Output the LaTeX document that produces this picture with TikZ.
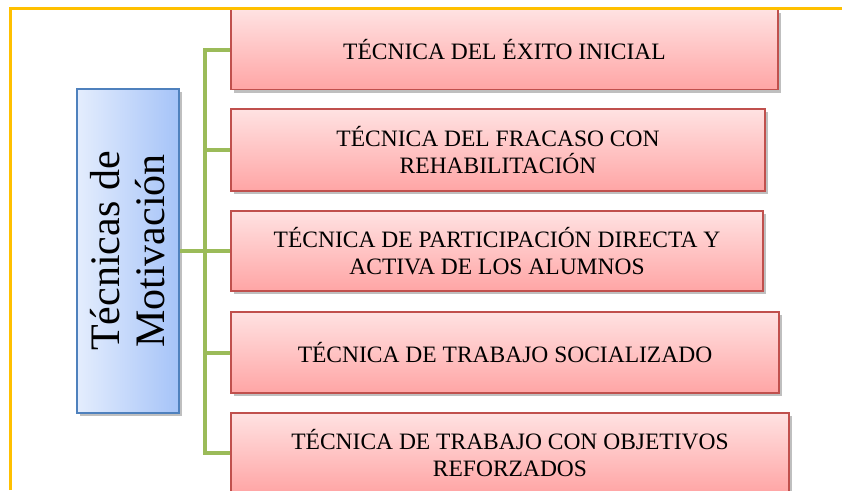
\documentclass[tikz,border=0pt]{standalone}
\usepackage{fontspec}
\setmainfont{Liberation Serif}
\usetikzlibrary{shadows}
\definecolor{frameorange}{HTML}{FFC000}
\definecolor{linkgreen}{HTML}{9BBB59}
\definecolor{redborder}{HTML}{C0504D}
\definecolor{redtop}{HTML}{FFE2E2}
\definecolor{redbottom}{HTML}{FFA5A5}
\definecolor{blueborder}{HTML}{4F81BD}
\definecolor{blueleft}{HTML}{E4EDFD}
\definecolor{blueright}{HTML}{A5C3F8}
\tikzset{
  itembox/.style={draw=redborder, line width=1.2pt, top color=redtop, bottom color=redbottom,
    minimum height=80pt, inner sep=0pt, align=center,
    font=\fontsize{23.5}{27}\selectfont,
    drop shadow={shadow xshift=2.5pt, shadow yshift=-3pt, opacity=0.25, fill=black}},
  mainbox/.style={draw=blueborder, line width=1.2pt, left color=blueleft, right color=blueright,
    minimum width=102pt, minimum height=324pt, inner sep=0pt,
    drop shadow={shadow xshift=2.5pt, shadow yshift=-3pt, opacity=0.25, fill=black}},
  maintext/.style={rotate=90, align=center, font=\fontsize{42}{45}\selectfont, inner sep=0pt},
  link/.style={draw=linkgreen, line width=4pt},
  frame/.style={draw=frameorange, line width=3pt}
}
\begin{document}
\begin{tikzpicture}[x=1pt, y=-1pt]
\useasboundingbox (0,0) rectangle (842,490);
\fill[white] (0,0) rectangle (842,490);

% items
\node[itembox, minimum width=547pt] (b1) at (504.5,49.5) {TÉCNICA DEL ÉXITO INICIAL};
\node[itembox, minimum width=534pt, minimum height=82pt] (b2) at (498,150) {TÉCNICA DEL FRACASO CON\\REHABILITACIÓN};
\node[itembox, minimum width=532pt] (b3) at (497,251) {TÉCNICA DE PARTICIPACIÓN DIRECTA Y\\ACTIVA DE LOS ALUMNOS};
\node[itembox, minimum width=548pt, minimum height=81pt] (b4) at (505,352.5) {TÉCNICA DE TRABAJO SOCIALIZADO};
\node[itembox, minimum width=558pt] (b5) at (510,453) {TÉCNICA DE TRABAJO CON OBJETIVOS\\REFORZADOS};

% main
\node[mainbox] (m) at (128,251) {};
\node[maintext] (mt) at (m.center) {Técnicas de\\Motivación};

% connectors
\coordinate (trunk) at (205,251);
\draw[link] (m.east) -- (trunk);
\draw[link, line cap=rect] (trunk |- b1.west) -- (trunk |- b5.west);
\foreach \b in {b1,b2,b3,b4,b5}{
  \draw[link] (trunk |- \b.west) -- (\b.west);
}

% frame
\draw[frame] (10.5,490) -- (10.5,8.3) -- (842,8.3);
\end{tikzpicture}
\end{document}
